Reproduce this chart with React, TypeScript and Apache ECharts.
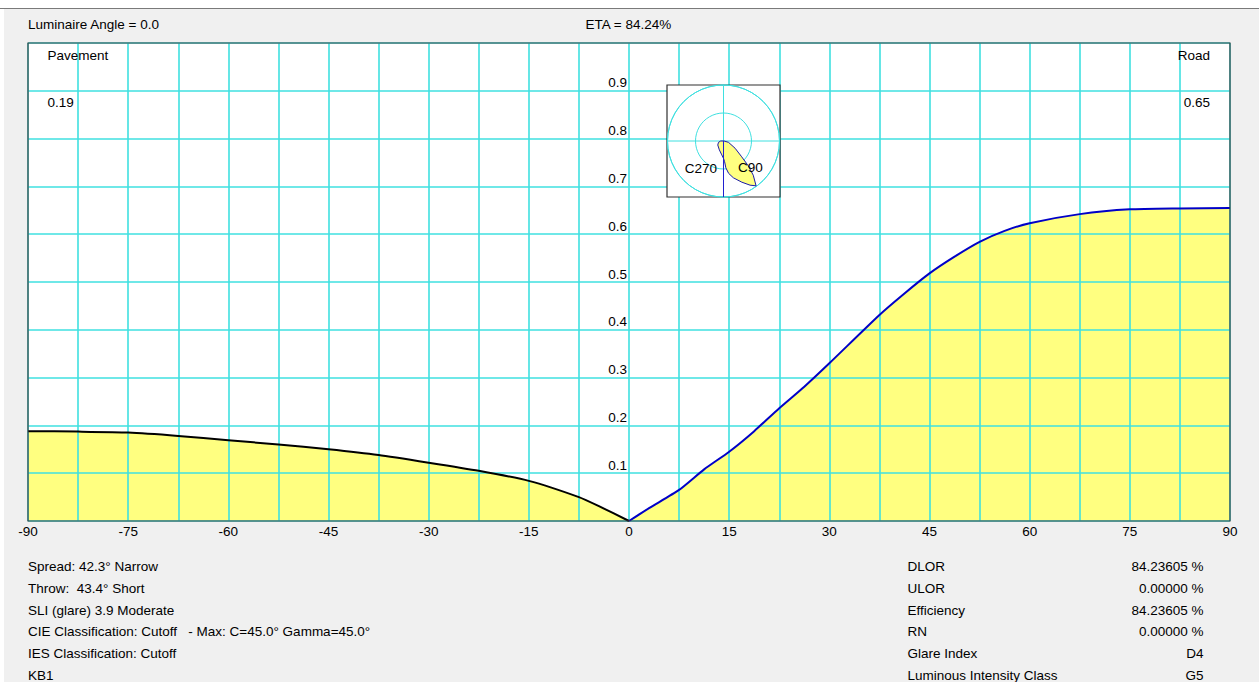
import React, { useEffect, useRef } from "react";
import * as echarts from "echarts";

// Luminance curve values (x: angle in degrees, y: relative value)
const pavementAngles = [-90, -82.5, -75, -67.5, -60, -52.5, -45, -37.5, -30, -22.5, -15, -7.5, -4.5, 0];
const pavementValues = [0.188, 0.187, 0.185, 0.178, 0.169, 0.16, 0.15, 0.138, 0.122, 0.105, 0.084, 0.05, 0.031, 0];

const roadAngles = [0, 3, 7.5, 11.25, 15, 18.75, 22.5, 26.25, 30, 37.5, 41.25, 45, 48.75, 52.5, 56.25, 60, 67.5, 75, 82.5, 90];
const roadValues = [0, 0.027, 0.065, 0.108, 0.145, 0.188, 0.236, 0.281, 0.33, 0.431, 0.476, 0.518, 0.553, 0.584, 0.607, 0.623, 0.642, 0.652, 0.654, 0.655];

// Polar inset (C270 / C90 plane): gamma from nadir, relative intensity
const polarGamma = [-90, -75, -55, -25, -7, 0, 3, 5, 9, 15, 24, 31, 36, 41, 45, 49, 58, 75, 90];
const polarIntensity = [0.1, 0.185, 0.25, 0.35, 0.5, 0.62, 0.74, 0.96, 1.17, 1.36, 1.61, 1.84, 1.98, 1.62, 1.25, 0.86, 0.49, 0.185, 0.02];

// Texts
const headerLeft = "Luminaire Angle = 0.0";
const headerCenter = "ETA = 84.24%";
const leftLabel = "Pavement";
const leftValue = "0.19";
const rightLabel = "Road";
const rightValue = "0.65";
const infoLeft = [
  "Spread: 42.3° Narrow",
  "Throw:  43.4° Short",
  "SLI (glare) 3.9 Moderate",
  "CIE Classification: Cutoff   - Max: C=45.0° Gamma=45.0°",
  "IES Classification: Cutoff",
  "KB1",
];
const infoRightLabels = ["DLOR", "ULOR", "Efficiency", "RN", "Glare Index", "Luminous Intensity Class"];
const infoRightValues = ["84.23605 %", "0.00000 %", "84.23605 %", "0.00000 %", "D4", "G5"];

const FONT = '13.5px "Liberation Sans", Arial, sans-serif';
const CYAN = "#3fe0e0";
const YELLOW = "#ffff80";

export default function App() {
  const ref = useRef<HTMLDivElement>(null);

  useEffect(() => {
    if (!ref.current) return;
    const chart = echarts.init(ref.current, undefined, { renderer: "svg" });

    const pavement = pavementAngles.map((a, i) => [a, pavementValues[i]]);
    const road = roadAngles.map((a, i) => [a, roadValues[i]]);
    const polarData = polarGamma.map((g, i) => [polarIntensity[i], g]);

    const rowY = [566, 588, 610, 631.5, 653, 675];

    const texts: any[] = [];
    const addText = (text: string, x: number, y: number, align = "left") => {
      texts.push({
        type: "text",
        x,
        y,
        z: 10,
        style: { text, font: FONT, fill: "#000", align, verticalAlign: "middle" },
      });
    };
    addText(headerLeft, 28, 24.5);
    addText(headerCenter, 585.5, 24.5);
    addText(leftLabel, 47.5, 55.5);
    addText(leftValue, 47.5, 102);
    addText(rightLabel, 1210, 55.5, "right");
    addText(rightValue, 1210, 102, "right");
    addText("C270", 717, 168, "right");
    addText("C90", 738, 167);
    infoLeft.forEach((t, i) => addText(t, 28, rowY[i]));
    infoRightLabels.forEach((t, i) => addText(t, 907.5, rowY[i]));
    infoRightValues.forEach((t, i) => addText(t, 1203.5, rowY[i], "right"));

    chart.setOption({
      animation: false,
      backgroundColor: "#f0f0f0",
      textStyle: { fontFamily: '"Liberation Sans", Arial, sans-serif' },
      grid: {
        left: 28,
        top: 43,
        right: 29,
        bottom: 161,
        show: true,
        backgroundColor: "#ffffff",
        borderWidth: 0,
      },
      xAxis: {
        type: "value",
        min: -90,
        max: 90,
        interval: 7.5,
        z: 2,
        axisLine: { show: false },
        axisTick: { show: false },
        axisLabel: {
          color: "#000",
          fontSize: 13.5,
          margin: 3,
          formatter: (v: number) => (Math.round(v * 10) % 150 === 0 ? String(Math.round(v)) : ""),
        },
        splitLine: { show: true, lineStyle: { color: CYAN, width: 1.6 } },
      },
      yAxis: {
        type: "value",
        min: 0,
        max: 1,
        interval: 0.1,
        position: "left",
        offset: -601,
        z: 2,
        axisLine: { show: false },
        axisTick: { show: false },
        axisLabel: {
          color: "#000",
          fontSize: 13.5,
          margin: 2,
          verticalAlign: "bottom",
          lineHeight: 16,
          formatter: (v: number) => (v > 0.001 && v < 0.999 ? v.toFixed(1) : ""),
        },
        splitLine: { show: true, lineStyle: { color: CYAN, width: 1.6 } },
      },
      polar: { center: [723.5, 141], radius: 56 },
      radiusAxis: {
        type: "value",
        min: 0,
        max: 2,
        interval: 1,
        z: 5,
        axisLine: { show: false },
        axisTick: { show: false },
        axisLabel: { show: false },
        splitLine: { show: true, lineStyle: { color: CYAN, width: 1 } },
      },
      angleAxis: {
        type: "value",
        min: -180,
        max: 180,
        interval: 90,
        startAngle: 90,
        clockwise: false,
        z: 5,
        axisLine: { show: true, lineStyle: { color: CYAN, width: 1 } },
        axisTick: { show: false },
        axisLabel: { show: false },
        splitLine: { show: true, lineStyle: { color: CYAN, width: 1 } },
      },
      series: [
        {
          type: "line",
          data: pavement,
          symbol: "none",
          smooth: 0.2,
          silent: true,
          z: 1,
          lineStyle: { opacity: 0 },
          areaStyle: { color: YELLOW, opacity: 1 },
        },
        {
          type: "line",
          data: road,
          symbol: "none",
          smooth: 0.2,
          silent: true,
          z: 1,
          lineStyle: { opacity: 0 },
          areaStyle: { color: YELLOW, opacity: 1 },
        },
        {
          type: "line",
          data: pavement,
          symbol: "none",
          smooth: 0.2,
          silent: true,
          z: 3,
          lineStyle: { color: "#000000", width: 2 },
        },
        {
          type: "line",
          data: road,
          symbol: "none",
          smooth: 0.2,
          silent: true,
          z: 3,
          lineStyle: { color: "#0000c8", width: 2 },
        },
        {
          type: "custom",
          coordinateSystem: "polar",
          data: polarData,
          z: 6,
          silent: true,
          renderItem: (params: any, api: any) => {
            if (params.dataIndex !== 0) return null;
            const pts = polarData.map((d) => api.coord([d[0], d[1]]));
            return {
              type: "polygon",
              shape: { points: pts },
              style: { fill: YELLOW, stroke: "#1a1aa8", lineWidth: 1 },
            };
          },
        },
        {
          type: "line",
          coordinateSystem: "polar",
          data: [
            [0, 0],
            [2, 0],
          ],
          symbol: "none",
          silent: true,
          z: 7,
          lineStyle: { color: "#2020d0", width: 1 },
        },
      ],
      graphic: [
        { type: "rect", z: 0, shape: { x: 0, y: 0, width: 1259, height: 8 }, style: { fill: "#ffffff" } },
        { type: "rect", z: 0, shape: { x: 0, y: 0, width: 4, height: 682 }, style: { fill: "#ffffff" } },
        {
          type: "line",
          z: 1,
          shape: { x1: 0, y1: 8.5, x2: 1259, y2: 8.5 },
          style: { stroke: "#7a7a7a", lineWidth: 1.2 },
        },
        {
          type: "rect",
          z: 4,
          shape: { x: 28, y: 43, width: 1202, height: 478 },
          style: { fill: "none", stroke: "#404040", lineWidth: 1.2 },
        },
        {
          type: "rect",
          z: 4,
          shape: { x: 667, y: 85, width: 113, height: 112 },
          style: { fill: "#ffffff", stroke: "#303030", lineWidth: 1.2 },
        },
        ...texts,
      ],
    });

    return () => chart.dispose();
  }, []);

  return (
    <div
      ref={ref}
      style={{ position: "absolute", left: 0, top: 0, width: 1259, height: 682 }}
    />
  );
}
